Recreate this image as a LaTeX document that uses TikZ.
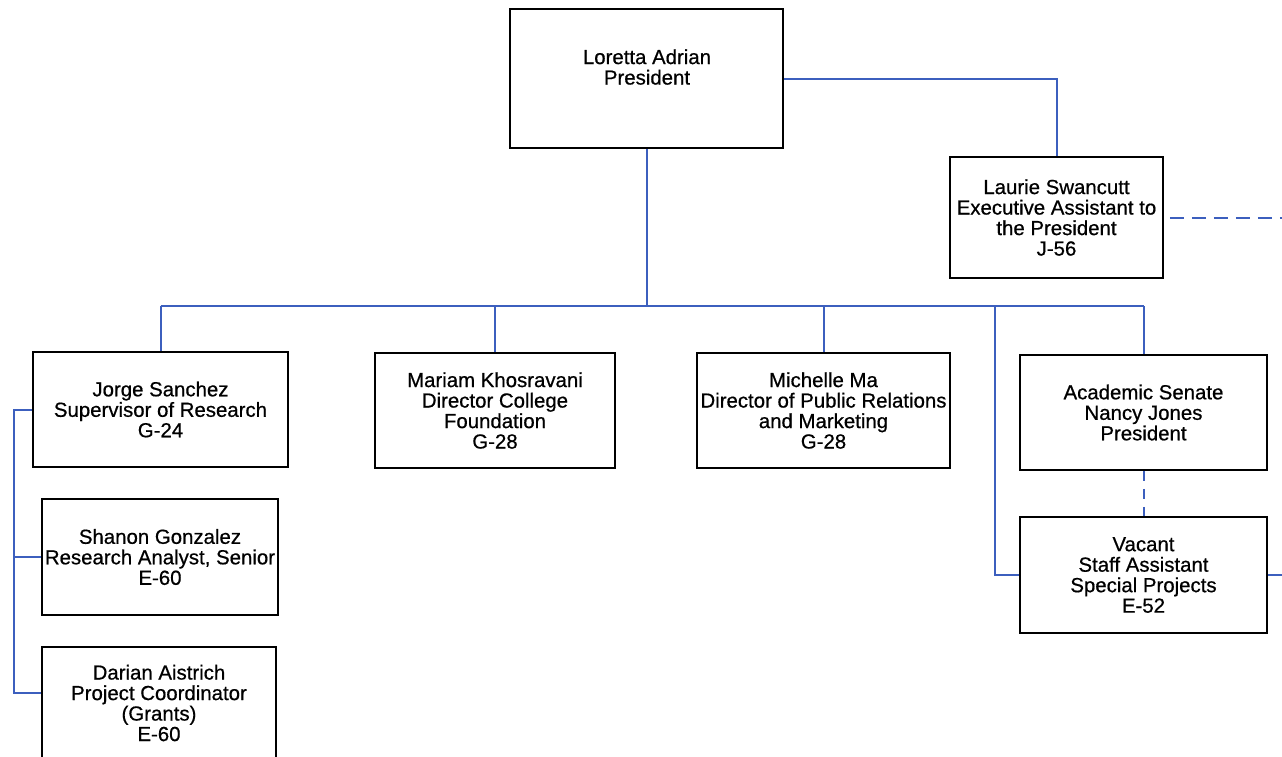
\documentclass[tikz,border=0pt]{standalone}
\usepackage{fontspec}
\setmainfont{Liberation Sans}[FakeBold=0.6]
\definecolor{connblue}{RGB}{60,95,190}
\begin{document}
\begin{tikzpicture}[x=1pt,y=-1pt,
  orgbox/.style={draw=black,line width=1.8pt,fill=white,align=center,inner sep=0pt,
    font=\fontsize{20.4}{20.5}\selectfont},
  conn/.style={draw=connblue,line width=2pt},
  dconn/.style={conn,dash pattern=on 14pt off 8pt},
  vdconn/.style={conn,dash pattern=on 10pt off 8pt},
  lbl/.style={align=center,inner sep=0pt,font=\fontsize{20.4}{20.5}\selectfont}]
\useasboundingbox (0,0) rectangle (1282,756);
\clip (0,0) rectangle (1282,756);
\coordinate (bus) at (0,306);
\coordinate (vbus) at (995,306);
\coordinate (jl) at (14,0);
\coordinate (rim) at (1282,0);
% boxes
\node[orgbox,minimum width=273,minimum height=139] (lor) at (646.5,78.5) {};
\node[lbl] (lortext) at (647,67) {Loretta Adrian\\President};
\node[orgbox,minimum width=213,minimum height=121] (lau) at (1056.5,217.5) {Laurie Swancutt\\Executive Assistant to\\the President\\J-56};
\node[orgbox,minimum width=255,minimum height=115] (jor) at (160.5,409.5) {Jorge Sanchez\\Supervisor of Research\\G-24};
\node[orgbox,minimum width=240,minimum height=115] (mar) at (495,410.5) {Mariam Khosravani\\Director College\\Foundation\\G-28};
\node[orgbox,minimum width=253,minimum height=115] (mic) at (823.5,410.5) {Michelle Ma\\Director of Public Relations\\and Marketing\\G-28};
\node[orgbox,minimum width=247,minimum height=115] (aca) at (1143.5,412.5) {Academic Senate\\Nancy Jones\\President};
\node[orgbox,minimum width=247,minimum height=116] (vac) at (1143.5,575) {Vacant\\Staff Assistant\\Special Projects\\E-52};
\node[orgbox,minimum width=236,minimum height=116] (sha) at (160,557) {Shanon Gonzalez\\Research Analyst, Senior\\E-60};
\node[orgbox,minimum width=234,minimum height=112] (dar) at (159,703) {Darian Aistrich\\Project Coordinator\\(Grants)\\E-60};
% connectors
\draw[conn] (lor.east) -| (lau.north);
\draw[conn] (lor.south) -- (lor.south |- bus);
\draw[conn] (jor.north |- bus) -- (aca.north |- bus);
\draw[conn] (jor.north) -- (jor.north |- bus);
\draw[conn] (mar.north) -- (mar.north |- bus);
\draw[conn] (mic.north) -- (mic.north |- bus);
\draw[conn] (aca.north) -- (aca.north |- bus);
\draw[conn] (vac.west) -| (vbus);
\draw[dconn] ([xshift=6pt]lau.east) -- (lau.east -| rim);
\draw[vdconn] (aca.south) -- (vac.north);
\draw[conn] (vac.east) -- (vac.east -| rim);
\draw[conn] (jor.west) -- (jor.west -| jl) |- ([yshift=10pt]dar.west);
\draw[conn] (sha.west) -- (sha.west -| jl);
\end{tikzpicture}
\end{document}
